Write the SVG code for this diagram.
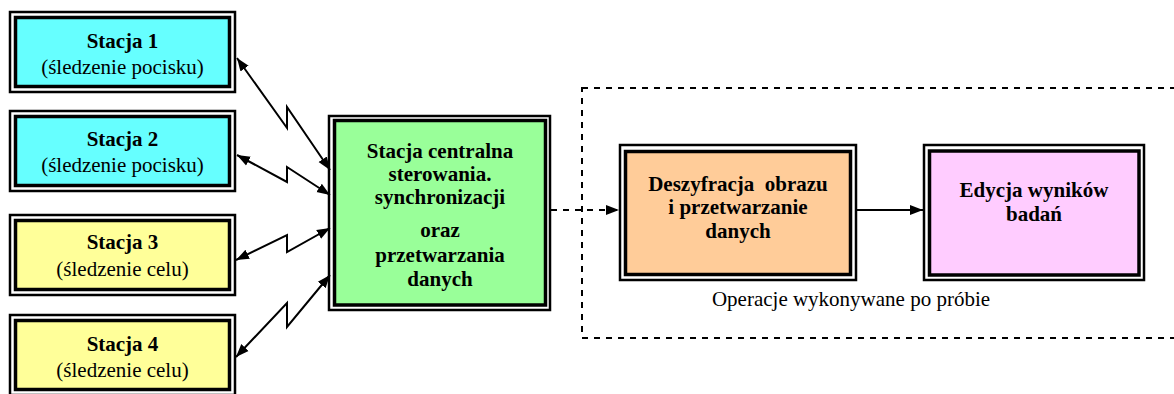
<svg xmlns="http://www.w3.org/2000/svg" width="1174" height="394" viewBox="0 0 1174 394">
<style>
.outer{fill:#fff;stroke:#000;stroke-width:2.5}
.inner{stroke:#000;stroke-width:3.5}
.t{font-family:'Times New Roman','Liberation Serif',Tinos,'DejaVu Serif',serif;font-size:21px;text-anchor:middle;fill:#000}
.b{font-weight:bold}
.conn{fill:none;stroke:#000;stroke-width:2}
.dash{stroke-dasharray:6 6}
</style>
<defs>
<marker id="ah" markerUnits="userSpaceOnUse" markerWidth="14" markerHeight="12" refX="13" refY="5" orient="auto-start-reverse" viewBox="0 0 14 10">
<path d="M0,0 L13,5 L0,10 Z" fill="#000"/>
</marker>
</defs>
<g id="dashed-region">
<rect x="582" y="88" width="610" height="250" fill="none" stroke="#000" stroke-width="2" stroke-dasharray="6 6"/>
<text class="t" x="851" y="306" font-family="Liberation Serif, serif">Operacje wykonywane po próbie</text>
</g>
<g id="stacja1">
<rect class="outer" x="10" y="12" width="225" height="80"/>
<rect class="inner" x="15.5" y="17.5" width="214" height="69" fill="#66FFFF"/>
<text class="t b" x="122.5" y="48">Stacja 1</text>
<text class="t" x="122.5" y="74">(śledzenie pocisku)</text>
</g>
<g id="stacja2">
<rect class="outer" x="10" y="111" width="225" height="80"/>
<rect class="inner" x="15.5" y="116.5" width="214" height="69" fill="#66FFFF"/>
<text class="t b" x="122.5" y="146">Stacja 2</text>
<text class="t" x="122.5" y="172">(śledzenie pocisku)</text>
</g>
<g id="stacja3">
<rect class="outer" x="10" y="215" width="225" height="80"/>
<rect class="inner" x="15.5" y="220.5" width="214" height="69" fill="#FFFF99"/>
<text class="t b" x="122.5" y="249">Stacja 3</text>
<text class="t" x="122.5" y="276">(śledzenie celu)</text>
</g>
<g id="stacja4">
<rect class="outer" x="10" y="315" width="225" height="80"/>
<rect class="inner" x="15.5" y="320.5" width="214" height="69" fill="#FFFF99"/>
<text class="t b" x="122.5" y="351">Stacja 4</text>
<text class="t" x="122.5" y="377">(śledzenie celu)</text>
</g>
<g id="centralna">
<rect class="outer" x="329" y="116" width="221" height="194"/>
<rect class="inner" x="334.5" y="120.5" width="211" height="184.5" fill="#99FF99"/>
<text class="t b" x="440" y="158">Stacja centralna</text>
<text class="t b" x="440" y="181">sterowania.</text>
<text class="t b" x="440" y="204">synchronizacji</text>
<text class="t b" x="440" y="237">oraz</text>
<text class="t b" x="440" y="262">przetwarzania</text>
<text class="t b" x="440" y="286">danych</text>
</g>
<g id="deszyfracja">
<rect class="outer" x="620" y="145" width="236" height="135"/>
<rect class="inner" x="625.5" y="151.5" width="225" height="123" fill="#FFCC99"/>
<text class="t b" x="738" y="191" xml:space="preserve">Deszyfracja  obrazu</text>
<text class="t b" x="738" y="214">i przetwarzanie</text>
<text class="t b" x="738" y="238">danych</text>
</g>
<g id="edycja">
<rect class="outer" x="924" y="145" width="220" height="135"/>
<rect class="inner" x="929.5" y="151" width="209.5" height="124" fill="#FFCCFF"/>
<text class="t b" x="1034" y="197">Edycja wyników</text>
<text class="t b" x="1034" y="221">badań</text>
</g>
<g id="connectors">
<path class="conn" d="M237,58 L287,128 L287,107 L330,170" marker-start="url(#ah)" marker-end="url(#ah)"/>
<path class="conn" d="M237,155 L287,182 L287,167 L330,195" marker-start="url(#ah)" marker-end="url(#ah)"/>
<path class="conn" d="M236,260 L287,235 L287,252 L330,228" marker-start="url(#ah)" marker-end="url(#ah)"/>
<path class="conn" d="M236,357 L287,303 L287,327 L330,275" marker-start="url(#ah)" marker-end="url(#ah)"/>
<path class="conn dash" d="M551,210 L619,210" marker-end="url(#ah)"/>
<path class="conn" d="M856,210 L923,210" marker-end="url(#ah)"/>
</g>
</svg>
